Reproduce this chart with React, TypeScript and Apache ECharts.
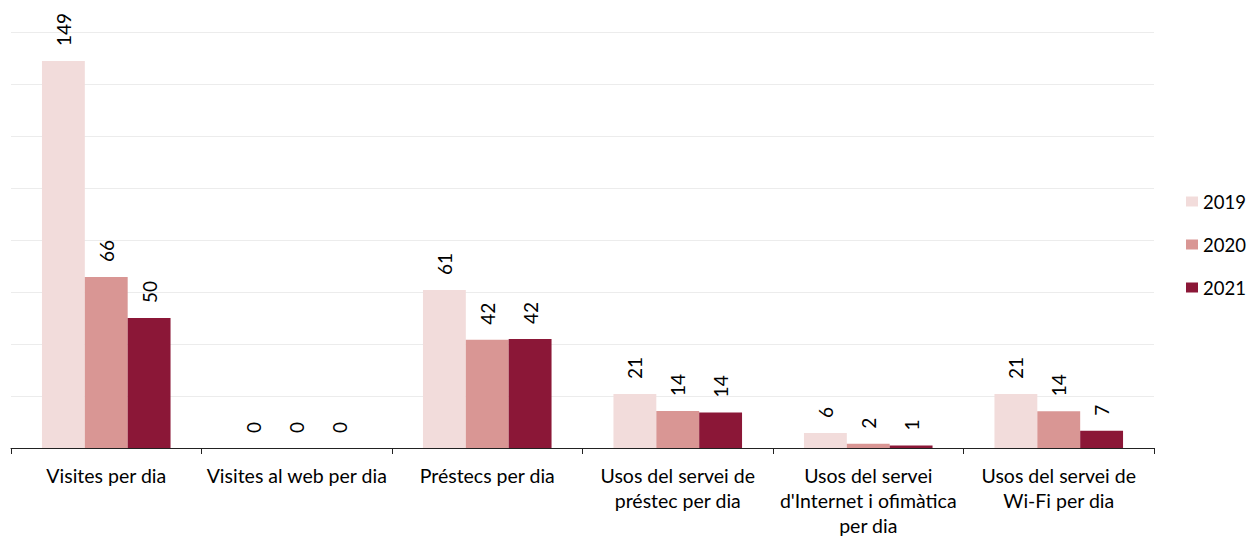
import React, { useEffect, useRef } from "react";
import * as echarts from "echarts";

const categories = [
  "Visites per dia",
  "Visites al web per dia",
  "Préstecs per dia",
  "Usos del servei de préstec per dia",
  "Usos del servei d'Internet i ofimàtica per dia",
  "Usos del servei de Wi-Fi per dia",
];
const categoryLines = [
  "Visites per dia",
  "Visites al web per dia",
  "Préstecs per dia",
  "Usos del servei de\npréstec per dia",
  "Usos del servei\nd'Internet i ofimàtica\nper dia",
  "Usos del servei de\nWi-Fi per dia",
];
const seriesNames = ["2019", "2020", "2021"];
const values2019 = [148.8, 0, 60.8, 20.8, 5.8, 20.8];
const values2020 = [65.8, 0, 41.6, 14.2, 1.6, 14.1];
const values2021 = [50.0, 0, 41.9, 13.7, 1.0, 6.6];
const colors = ["#f2dcdb", "#d99694", "#8b1737"];

const FONT = "Lato";

export default function App() {
  const ref = useRef<HTMLDivElement>(null);
  useEffect(() => {
    if (!ref.current) return;
    const chart = echarts.init(ref.current, undefined, { renderer: "svg" });
    const all = [values2019, values2020, values2021];
    chart.setOption({
      animation: false,
      textStyle: { fontFamily: FONT },
      grid: { left: 11, right: 94, top: 32, bottom: 90, containLabel: false },
      legend: {
        orient: "vertical",
        left: 1186,
        top: 192,
        padding: 0,
        itemWidth: 12,
        itemHeight: 10,
        itemGap: 24,
        itemStyle: { borderWidth: 0 },
        icon: "rect",
        textStyle: { fontSize: 18.5, color: "#000", fontFamily: FONT },
        data: seriesNames,
      },
      xAxis: {
        type: "category",
        data: categories,
        axisLine: { lineStyle: { color: "#222", width: 1 } },
        axisTick: { show: true, length: 6, lineStyle: { color: "#222" } },
        axisLabel: {
          interval: 0,
          margin: 15,
          fontSize: 19.5,
          lineHeight: 25,
          color: "#000",
          fontFamily: FONT,
          formatter: (v: string) => categoryLines[categories.indexOf(v)] ?? v,
        },
      },
      yAxis: {
        type: "value",
        min: 0,
        max: 160,
        interval: 20,
        axisLabel: { show: false },
        axisLine: { show: false },
        axisTick: { show: false },
        splitLine: { lineStyle: { color: "#ececec", width: 1 } },
      },
      series: all.map((vals, i) => ({
        name: seriesNames[i],
        type: "bar",
        data: vals,
        barGap: "0%",
        barCategoryGap: "32.5%",
        itemStyle: { color: colors[i] },
        label: {
          show: true,
          position: "top",
          rotate: 90,
          align: "left",
          verticalAlign: "middle",
          distance: 15,
          fontSize: 19,
          color: "#000",
          fontFamily: FONT,
          formatter: (p: any) => String(Math.round(p.value)),
        },
      })),
    });
    return () => chart.dispose();
  }, []);
  return (
    <div
      ref={ref}
      style={{ position: "absolute", left: 0, top: 0, width: 1248, height: 538 }}
    />
  );
}
